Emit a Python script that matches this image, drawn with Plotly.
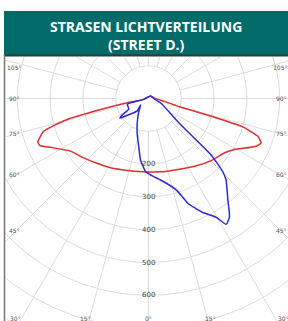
import numpy as np
import plotly.graph_objects as go

# Photometric data (angle in degrees from nadir, negative = left half; intensity in cd/klm)
red_angle = [141, 91, 82, 77, 75.3, 74.2, 73.4, 71, 68.5, 66.1, 59.3, 54.5, 45.3, 34.2, 22.4, 9.8, 0,
             -3.7, -16.5, -28.7, -36, -47.5, -56, -62.5, -66.7, -68.6, -72.7, -75.5, -77, -78.6, -80, 141]
red_cd = [10, 21, 37, 69, 92, 199, 295, 352, 369, 359, 305, 285, 269, 250, 234, 227, 224,
          224, 229, 241, 249, 268, 287, 326, 361, 362, 334, 256, 150, 66, 15, 10]

blue_angle = [141, -80, -74.8, -62, -57.9, -55.4, -52.7, -42.1, -50.9, -36.3, -24.5, -18, -11.4, -7.4, -2.3,
              1.5, 10.4, 17, 20.6, 25, 29.7, 31.7, 34.4, 38, 43.6, 45.4, 48, 49.1, 51.6, 69.3, 85, 141]
blue_cd = [10, 15, 67, 68, 95, 106, 88, 51, 31, 50, 83, 112, 150, 189, 223,
           233, 258, 292, 341, 381, 417, 451, 437, 393, 343, 318, 257, 185, 114, 41, 18, 10]

ring_values = [100, 200, 300, 400, 500, 600, 700, 800, 900]
ring_labels = ["200", "300", "400", "500", "600"]
spoke_angles = list(range(0, 360, 15))

side_labels = ["105°", "90°", "75°", "60°", "45°"]
side_label_py = [68, 98, 133, 174, 230]
bottom_labels = ["30°", "15°", "0°", "15°", "30°"]
bottom_label_px = [15, 85, 148, 210, 283]

W, H = 288, 321
L, T = 5, 57
CX, CY = 148.5, 98.5
S = 0.328  # px per unit

def to_xy(ang, cd):
    a = np.radians(np.array(ang, dtype=float))
    r = np.array(cd, dtype=float)
    return r * np.sin(a), -r * np.cos(a)

fig = go.Figure()
grid = dict(color="#dcdcdc", width=1)
for rv in ring_values:
    t = np.linspace(0, 2 * np.pi, 361)
    fig.add_trace(go.Scatter(x=rv * np.cos(t), y=rv * np.sin(t), mode="lines",
                             line=grid, hoverinfo="skip", showlegend=False))
for sa in spoke_angles:
    x, y = to_xy([sa, sa], [100, 1100])
    fig.add_trace(go.Scatter(x=x, y=y, mode="lines", line=grid, hoverinfo="skip", showlegend=False))

rx, ry = to_xy(red_angle, red_cd)
fig.add_trace(go.Scatter(x=rx, y=ry, mode="lines", line=dict(color="#dc2f2f", width=1.5, shape="spline", smoothing=0.5),
                         showlegend=False))
bx, by = to_xy(blue_angle, blue_cd)
fig.add_trace(go.Scatter(x=bx, y=by, mode="lines", line=dict(color="#2a2ad8", width=1.5, shape="spline", smoothing=0.5),
                         showlegend=False))

xr = [(L - CX) / S, (W - CX) / S]
yr = [-(H - CY) / S, (CY - T) / S]

def px2paper(px, py):
    return (px - L) / (W - L), (H - py) / (H - T)

small = dict(family="DejaVu Sans", size=6, color="#555")
ann = []
for lab in ring_labels:
    ann.append(dict(x=0, y=-float(lab), xref="x", yref="y", text=lab, showarrow=False,
                    xanchor="center", yanchor="middle",
                    font=dict(family="DejaVu Sans", size=7, color="#444")))
for lab, py in zip(side_labels, side_label_py):
    x0, y0 = px2paper(14, py)
    ann.append(dict(x=x0, y=y0, xref="paper", yref="paper", text=lab, showarrow=False,
                    xanchor="center", yanchor="middle", font=small))
    x1, _ = px2paper(289, py)
    ann.append(dict(x=x1, y=y0, xref="paper", yref="paper", text=lab, showarrow=False,
                    xanchor="right", yanchor="middle", font=small))
for lab, px in zip(bottom_labels, bottom_label_px):
    x0, y0 = px2paper(px, 318)
    ann.append(dict(x=x0, y=y0, xref="paper", yref="paper", text=lab, showarrow=False,
                    xanchor="center", yanchor="middle", font=small))

tx, ty = px2paper(146, 35)
ann.append(dict(x=tx, y=ty, xref="paper", yref="paper", showarrow=False,
                xanchor="center", yanchor="middle",
                text="<b>STRASEN LICHTVERTEILUNG</b><br><b>(STREET D.)</b>",
                font=dict(family="Open Sans", size=14, color="white")))

bx0, by0 = px2paper(4, 55)
bx1, by1 = px2paper(290, 11)
lx, ly0 = px2paper(4.5, 55)
_, ly1 = px2paper(4.5, 325)
shapes = [
    dict(type="rect", xref="paper", yref="paper", x0=bx0, x1=bx1, y0=by0, y1=by1,
         fillcolor="#006b68", line=dict(width=0), layer="below"),
    dict(type="line", xref="paper", yref="paper", x0=bx0, x1=bx1, y0=px2paper(0, 55.5)[1], y1=px2paper(0, 55.5)[1],
         line=dict(color="#2e3a3a", width=2)),
    dict(type="line", xref="paper", yref="paper", x0=lx, x1=lx, y0=ly0, y1=ly1,
         line=dict(color="#777", width=1.5)),
]

fig.update_layout(
    width=W, height=H, margin=dict(l=L, r=0, t=T, b=0),
    paper_bgcolor="white", plot_bgcolor="white",
    xaxis=dict(range=xr, visible=False, fixedrange=True),
    yaxis=dict(range=yr, visible=False, fixedrange=True),
    annotations=ann, shapes=shapes,
)
fig.write_html("out.html", config={"displayModeBar": False},
               post_script="document.body.style.margin='0';document.body.style.overflow='hidden';")
